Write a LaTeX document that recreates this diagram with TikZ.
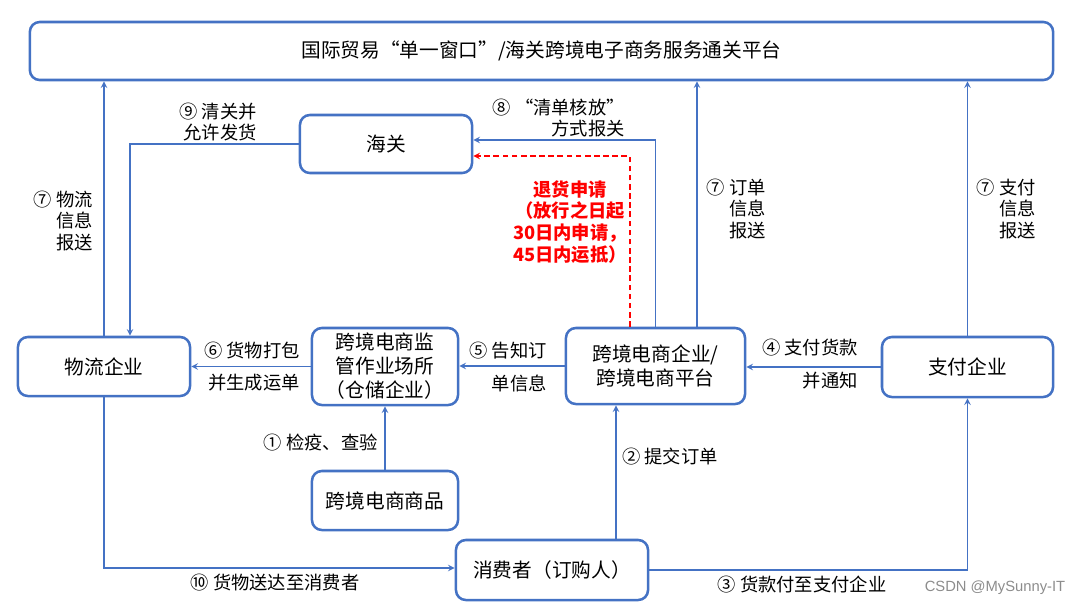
\documentclass[tikz,border=0pt]{standalone}
\usepackage{fontspec}
\setmainfont{Noto Sans CJK SC}
\setsansfont{Liberation Sans}
\usetikzlibrary{positioning, arrows, calc}
\definecolor{Office-1}{RGB}{68,114,196}
\definecolor{Office-2}{RGB}{255,0,0}

\begin{document}
\begin{tikzpicture}[x=0.025cm, y=-0.025cm]
        \tikzset{ bx/.style ={draw=Office-1, line width=1.8pt, rounded corners=7pt, inner sep=0pt, align=center, text=black, fill=white, font=\fontsize{14}{17}\selectfont } }
        \tikzset{ lbl/.style ={inner sep=0pt, text=black, font=\fontsize{13}{15.6}\selectfont } }
        \tikzset{ rlbl/.style ={lbl, align=right, anchor=east } }

        \tikzstyle{lnk}=[->,>=stealth, draw=Office-1, line width=1.1pt]
        \tikzstyle{ret}=[->,>=stealth, draw=Office-2, line width=1.1pt, dash pattern=on 4pt off 2.5pt]

        \useasboundingbox (0,0) rectangle (1080,607);

        \node[bx, minimum width=25.575cm, minimum height=1.45cm] (plat) at (541.5,51) {国际贸易“单一窗口”/海关跨境电子商务服务通关平台};
        \node[bx, minimum width=4.3cm, minimum height=1.45cm] (customs) at (386,144) {海关};
        \node[bx, minimum width=4.3cm, minimum height=1.475cm] (logis) at (104,366.5) {物流企业};
        \node[bx, minimum width=3.65cm, minimum height=1.925cm] (ware) at (385,366.5) {跨境电商监\\管作业场所\\（仓储企业）};
        \node[bx, minimum width=4.475cm, minimum height=1.9cm] (ecom) at (655.5,366) {跨境电商企业/\\跨境电商平台};
        \node[bx, minimum width=4.275cm, minimum height=1.5cm] (pay) at (967.5,367) {支付企业};
        \node[bx, minimum width=3.65cm, minimum height=1.475cm] (goods) at (385,500.5) {跨境电商商品};
        \node[bx, minimum width=4.8cm, minimum height=1.5cm] (buyer) at (552,570) {消费者（订购人）};

        \coordinate (ordup) at ($(ecom.north)+(41.5,0)$);
        \coordinate (retup) at ($(ecom.north)+(-25.5,0)$);
        \coordinate (ordin) at ($(buyer.north)+(64,0)$);

        \draw[lnk] (logis.north) -- (logis.north |- plat.south);
        \draw[lnk] (customs.west) -| ($(logis.north)+(26,0)$);
        \draw[lnk] (ecom.north) |- ($(customs.east)+(0,-4)$);
        \draw[ret] (retup) |- ($(customs.east)+(0,12)$);
        \draw[lnk] (ordup) -- (ordup |- plat.south);
        \draw[lnk] (pay.north) -- (pay.north |- plat.south);
        \draw[lnk] (pay.west) -- (pay.west -| ecom.east);
        \draw[lnk] (ecom.west) -- (ecom.west -| ware.east);
        \draw[lnk] (ware.west) -- (ware.west -| logis.east);
        \draw[lnk] (goods.north) -- (ware.south);
        \draw[lnk] (ordin) -- (ordin |- ecom.south);
        \draw[lnk] (logis.south) |- ($(buyer.west)+(0,-2)$);
        \draw[lnk] (buyer.east) -| (pay.south);

        \node[rlbl] (l7a) at (93,221) {⑦ 物流\\信息\\报送};
        \node[rlbl] (l9) at (257,122) {⑨ 清关并\\允许发货};
        \node[rlbl] (l8) at (625,118) {⑧ “清单核放”\\方式报关};
        \node[lbl, align=center, text=Office-2, font=\fontsize{13}{15.6}\selectfont\bfseries] (lret) at (570,222) {退货申请\\（放行之日起\\30日内申请，\\45日内运抵）};
        \node[rlbl] (l7b) at (766,209) {⑦ 订单\\信息\\报送};
        \node[rlbl] (l7c) at (1036,209) {⑦ 支付\\信息\\报送};

        \node[lbl, anchor=east] (l6a) at (300,351) {⑥ 货物打包};
        \node[lbl, anchor=east] (l6b) at (300,383) {并生成运单};
        \node[lbl, anchor=east] (l5a) at (547,351) {⑤ 告知订};
        \node[lbl, anchor=east] (l5b) at (547,383) {单信息};
        \node[lbl, anchor=east] (l4a) at (858,348) {④ 支付货款};
        \node[lbl, anchor=east] (l4b) at (858,381) {并通知};
        \node[lbl, anchor=east] (l1) at (378,443) {① 检疫、查验};
        \node[lbl, anchor=west] (l2) at (622,457) {② 提交订单};
        \node[lbl] (l10) at (275,583) {⑩ 货物送达至消费者};
        \node[lbl] (l3) at (802,585) {③ 货款付至支付企业};

        \node[inner sep=0pt, text=black!45, font=\sffamily\fontsize{10.5}{12}\selectfont] (mark) at (995,588) {CSDN @MySunny-IT};
\end{tikzpicture}
\end{document}
